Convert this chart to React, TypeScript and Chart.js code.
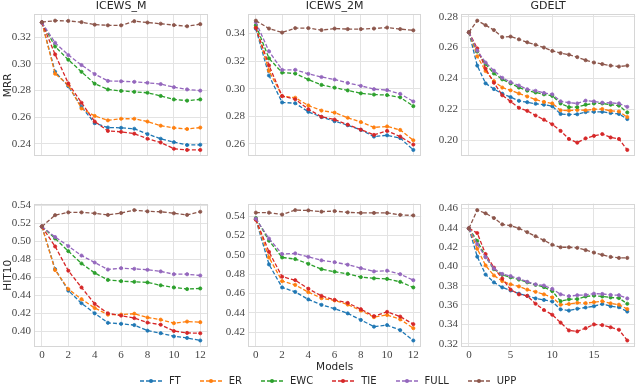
import React, { useEffect, useRef } from "react";
import { Chart, registerables } from "chart.js";

Chart.register(...registerables);

// ---------------- data ----------------
const METHODS = ["FT", "ER", "EWC", "TIE", "FULL", "UPP"];
const COLORS = ["#1f77b4", "#ff7f0e", "#2ca02c", "#d62728", "#9467bd", "#8c564b"];

const icewsModels = [0, 1, 2, 3, 4, 5, 6, 7, 8, 9, 10, 11, 12];
const gdeltModels = [0, 1, 2, 3, 4, 5, 6, 7, 8, 9, 10, 11, 12, 13, 14, 15, 16, 17, 18, 19];
const icewsXTicks = [0, 2, 4, 6, 8, 10, 12];
const gdeltXTicks = [0, 5, 10, 15];

// ICEWS_M MRR
const mM_FT = [0.331, 0.294, 0.2832, 0.2677, 0.2555, 0.2522, 0.252, 0.2513, 0.2473, 0.2438, 0.2412, 0.2391, 0.2393];
const mM_ER = [0.331, 0.2926, 0.2841, 0.2665, 0.2609, 0.2576, 0.2588, 0.2588, 0.2567, 0.2536, 0.252, 0.2511, 0.2522];
const mM_EWC = [0.331, 0.313, 0.3031, 0.294, 0.2851, 0.2808, 0.2797, 0.279, 0.2783, 0.2759, 0.2733, 0.2724, 0.2733];
const mM_TIE = [0.331, 0.3071, 0.2853, 0.2708, 0.2567, 0.2497, 0.249, 0.2476, 0.2438, 0.241, 0.2363, 0.2354, 0.2354];
const mM_FULL = [0.331, 0.3158, 0.3066, 0.2991, 0.2923, 0.2872, 0.2869, 0.2865, 0.2858, 0.2848, 0.2825, 0.2808, 0.2799];
const mM_UPP = [0.3313, 0.3324, 0.3322, 0.3313, 0.3294, 0.3289, 0.3289, 0.332, 0.331, 0.3301, 0.3291, 0.3282, 0.3298];
const mM_YTicks = [0.24, 0.26, 0.28, 0.3, 0.32];

// ICEWS_2M MRR
const m2M_FT = [0.3435, 0.3096, 0.2901, 0.2895, 0.2833, 0.2795, 0.2765, 0.2736, 0.2702, 0.2654, 0.2663, 0.2643, 0.2557];
const m2M_ER = [0.3445, 0.313, 0.2947, 0.2935, 0.2879, 0.2842, 0.2827, 0.279, 0.2759, 0.272, 0.2727, 0.2702, 0.2627];
const m2M_EWC = [0.346, 0.322, 0.3117, 0.311, 0.3067, 0.3028, 0.3008, 0.2988, 0.2967, 0.2958, 0.2954, 0.2938, 0.2874];
const m2M_TIE = [0.3441, 0.3169, 0.2947, 0.2924, 0.2852, 0.2797, 0.2777, 0.274, 0.2704, 0.2666, 0.2695, 0.2654, 0.2596];
const m2M_FULL = [0.3482, 0.3271, 0.3137, 0.3137, 0.3108, 0.3085, 0.3067, 0.3042, 0.3021, 0.2997, 0.299, 0.2963, 0.2908];
const m2M_UPP = [0.3493, 0.3436, 0.3407, 0.3439, 0.3439, 0.3425, 0.3436, 0.3432, 0.3432, 0.3436, 0.3443, 0.3432, 0.3423];
const m2M_YTicks = [0.26, 0.28, 0.3, 0.32, 0.34];

// GDELT MRR
const mG_FT = [0.2699, 0.2483, 0.2368, 0.2331, 0.2301, 0.2279, 0.2255, 0.2246, 0.2236, 0.223, 0.222, 0.217, 0.2166, 0.2168, 0.2182, 0.2184, 0.2184, 0.2176, 0.217, 0.2137];
const mG_ER = [0.2699, 0.2543, 0.2448, 0.2382, 0.2341, 0.2323, 0.2303, 0.2283, 0.2263, 0.2248, 0.2238, 0.2194, 0.2192, 0.2196, 0.2194, 0.22, 0.2202, 0.219, 0.2186, 0.215];
const mG_EWC = [0.2699, 0.2574, 0.2493, 0.2432, 0.2394, 0.2368, 0.2341, 0.2321, 0.2309, 0.2297, 0.2287, 0.2238, 0.2214, 0.2214, 0.223, 0.2238, 0.2238, 0.223, 0.2224, 0.218];
const mG_TIE = [0.2699, 0.2594, 0.2463, 0.2372, 0.2291, 0.2251, 0.221, 0.219, 0.216, 0.2133, 0.2103, 0.206, 0.2008, 0.1984, 0.2012, 0.2028, 0.204, 0.2018, 0.2008, 0.1937];
const mG_FULL = [0.2699, 0.258, 0.2503, 0.245, 0.2404, 0.2376, 0.2354, 0.233, 0.232, 0.2306, 0.2297, 0.2252, 0.2243, 0.2238, 0.2256, 0.2251, 0.2243, 0.2242, 0.2238, 0.2216];
const mG_UPP = [0.2699, 0.2774, 0.2745, 0.2713, 0.2667, 0.2671, 0.2653, 0.2634, 0.2618, 0.26, 0.2578, 0.2564, 0.2554, 0.2538, 0.2518, 0.2503, 0.2493, 0.2483, 0.2477, 0.2483];
const mG_YTicks = [0.2, 0.22, 0.24, 0.26, 0.28];

// ICEWS_M HIT10
const hM_FT = [0.5162, 0.4689, 0.4451, 0.4311, 0.4199, 0.4094, 0.4083, 0.4069, 0.4007, 0.3979, 0.3944, 0.3926, 0.3898];
const hM_ER = [0.5162, 0.4679, 0.4468, 0.4356, 0.4258, 0.4185, 0.4185, 0.4195, 0.4153, 0.4129, 0.409, 0.4108, 0.4101];
const hM_EWC = [0.5162, 0.5029, 0.4889, 0.4752, 0.4647, 0.457, 0.4556, 0.4549, 0.4542, 0.451, 0.4486, 0.4468, 0.4475];
const hM_TIE = [0.5162, 0.4941, 0.4672, 0.4486, 0.4304, 0.4199, 0.4174, 0.4146, 0.4097, 0.4073, 0.4003, 0.3982, 0.3978];
const hM_FULL = [0.5162, 0.5046, 0.4945, 0.484, 0.4763, 0.4685, 0.47, 0.4693, 0.4682, 0.4664, 0.4633, 0.4633, 0.4619];
const hM_UPP = [0.5162, 0.5288, 0.5319, 0.5319, 0.5309, 0.5291, 0.5312, 0.5344, 0.533, 0.5326, 0.5309, 0.5291, 0.5326];
const hM_YTicks = [0.4, 0.42, 0.44, 0.46, 0.48, 0.5, 0.52, 0.54];

// ICEWS_2M HIT10
const h2M_FT = [0.5364, 0.4901, 0.4663, 0.4617, 0.4539, 0.4483, 0.4444, 0.4395, 0.4327, 0.4258, 0.4274, 0.4222, 0.4115];
const h2M_ER = [0.5364, 0.4973, 0.4728, 0.4689, 0.4614, 0.4552, 0.4529, 0.4486, 0.4424, 0.4356, 0.4379, 0.4333, 0.4242];
const h2M_EWC = [0.538, 0.5146, 0.4973, 0.4956, 0.4907, 0.4852, 0.4826, 0.4803, 0.477, 0.4757, 0.4751, 0.4721, 0.4663];
const h2M_TIE = [0.5364, 0.5031, 0.4774, 0.4738, 0.465, 0.4575, 0.4535, 0.4503, 0.4438, 0.4366, 0.4411, 0.4362, 0.4284];
const h2M_FULL = [0.5374, 0.5168, 0.5008, 0.5015, 0.4979, 0.4943, 0.4924, 0.4898, 0.4862, 0.4829, 0.4836, 0.48, 0.4738];
const h2M_UPP = [0.5436, 0.5436, 0.5416, 0.5462, 0.5459, 0.5446, 0.5452, 0.5439, 0.5433, 0.5433, 0.5433, 0.5413, 0.5407];
const h2M_YTicks = [0.42, 0.44, 0.46, 0.48, 0.5, 0.52, 0.54];

// GDELT HIT10
const hG_FT = [0.4392, 0.41, 0.3915, 0.3834, 0.3782, 0.375, 0.3717, 0.3694, 0.3668, 0.3652, 0.3636, 0.3555, 0.3542, 0.3561, 0.3574, 0.3587, 0.361, 0.3587, 0.3577, 0.3532];
const hG_ER = [0.4392, 0.4181, 0.4009, 0.3905, 0.3847, 0.3814, 0.3792, 0.3759, 0.3736, 0.371, 0.3678, 0.3603, 0.361, 0.3623, 0.3619, 0.3629, 0.3639, 0.3617, 0.3603, 0.3558];
const hG_EWC = [0.4392, 0.4262, 0.41, 0.397, 0.3912, 0.3886, 0.3863, 0.3834, 0.3808, 0.3785, 0.3743, 0.3639, 0.3659, 0.3662, 0.3688, 0.3697, 0.3688, 0.3678, 0.3671, 0.3613];
const hG_TIE = [0.4392, 0.4344, 0.4126, 0.3986, 0.3873, 0.3759, 0.371, 0.3694, 0.3613, 0.3548, 0.3499, 0.3418, 0.3337, 0.3327, 0.336, 0.3399, 0.3392, 0.337, 0.3344, 0.3233];
const hG_FULL = [0.4392, 0.423, 0.4094, 0.3977, 0.3921, 0.3899, 0.3873, 0.384, 0.3814, 0.3801, 0.3766, 0.371, 0.3691, 0.3701, 0.3704, 0.3717, 0.3714, 0.3704, 0.3701, 0.3668];
const hG_UPP = [0.4392, 0.4581, 0.4548, 0.4499, 0.4434, 0.4421, 0.4392, 0.4353, 0.4311, 0.4269, 0.4223, 0.4197, 0.4197, 0.4191, 0.4168, 0.4142, 0.4119, 0.4097, 0.4087, 0.4087];
const hG_YTicks = [0.32, 0.34, 0.36, 0.38, 0.4, 0.42, 0.44, 0.46];

// ---------------- styles ----------------
const SANS = "'DejaVu Sans', sans-serif";
const SERIF = "'Liberation Serif', 'DejaVu Serif', serif";
const TEXT = "#262626";
const TICK = "#444444";
const GRID = "#e3e3e3";
const FRAME = "#d6d6d6";

type PanelProps = {
  left: number;
  top: number;
  width: number;
  height: number;
  axisW: number;
  padTop: number;
  padBottom: number;
  xAxisH: number;
  title?: string;
  yTitle?: string;
  xTitle?: string;
  models: number[];
  xTicks: number[];
  yTicks: number[];
  series: number[][];
  showXTicks: boolean;
};

const framePlugin = {
  id: "frame",
  beforeDatasetsDraw(chart: any) {
    const { ctx, chartArea: a } = chart;
    ctx.save();
    ctx.strokeStyle = FRAME;
    ctx.lineWidth = 1;
    const l = Math.round(a.left) + 0.5;
    const t = Math.round(a.top) + 0.5;
    const r = Math.round(a.right) - 0.5;
    const b = Math.round(a.bottom) - 0.5;
    ctx.strokeRect(l, t, r - l, b - t);
    ctx.restore();
  },
};

function Panel(p: PanelProps) {
  const ref = useRef<HTMLCanvasElement | null>(null);
  useEffect(() => {
    if (!ref.current) return;
    const all = p.series.flat();
    const lo = Math.min(...all);
    const hi = Math.max(...all);
    const ym = (hi - lo) * 0.05;
    const xr = p.models[p.models.length - 1] - p.models[0];
    const xm = xr * 0.05;
    const chart = new Chart(ref.current, {
      type: "line",
      data: {
        datasets: p.series.map((s, k) => ({
          label: METHODS[k],
          data: p.models.map((m, i) => ({ x: m, y: s[i] })),
          borderColor: COLORS[k],
          backgroundColor: COLORS[k],
          borderWidth: 1.3,
          borderDash: [4, 2],
          pointRadius: 1.6,
          pointBorderWidth: 0.8,
          pointBorderColor: COLORS[k],
          pointBackgroundColor: COLORS[k],
          tension: 0,
          order: METHODS.length - k,
          clip: false,
        })),
      },
      options: {
        responsive: false,
        animation: false,
        devicePixelRatio: 1,
        events: [],
        layout: { padding: { left: 0, right: 1, top: p.padTop, bottom: p.padBottom } },
        plugins: {
          legend: { display: false },
          tooltip: { enabled: false },
          title: {
            display: !!p.title,
            text: p.title || "",
            fullSize: false,
            color: TEXT,
            font: { family: SANS, size: 11, weight: "normal" },
            padding: { top: 0, bottom: 1 },
          },
        },
        scales: {
          x: {
            type: "linear",
            min: p.models[0] - xm,
            max: p.models[p.models.length - 1] + xm,
            afterBuildTicks: (s: any) => {
              s.ticks = p.xTicks.map((v) => ({ value: v }));
            },
            afterFit: (s: any) => {
              s.height = p.xAxisH;
            },
            grid: { color: GRID, lineWidth: 1, drawTicks: false },
            border: { display: false },
            ticks: {
              display: p.showXTicks,
              padding: 2,
              color: TICK,
              font: { family: SERIF, size: 11 },
              callback: (v: any) => String(v),
            },
            title: {
              display: !!p.xTitle,
              text: p.xTitle || "",
              color: TEXT,
              font: { family: SANS, size: 10.5 },
              padding: { top: 0, bottom: 11 },
            },
          },
          y: {
            type: "linear",
            min: lo - ym,
            max: hi + ym,
            afterBuildTicks: (s: any) => {
              s.ticks = p.yTicks.map((v) => ({ value: v }));
            },
            afterFit: (s: any) => {
              s.width = p.axisW;
            },
            grid: { color: GRID, lineWidth: 1, drawTicks: false },
            border: { display: false },
            ticks: {
              padding: 3,
              color: TICK,
              font: { family: SERIF, size: 11 },
              callback: (v: any) => Number(v).toFixed(2),
            },
            title: {
              display: !!p.yTitle,
              text: p.yTitle || "",
              color: TEXT,
              font: { family: SANS, size: 10.5 },
              padding: { top: 2, bottom: 0 },
            },
          },
        },
      } as any,
      plugins: [framePlugin],
    });
    return () => chart.destroy();
  }, []);
  return (
    <canvas
      ref={ref}
      width={p.width}
      height={p.height}
      style={{ position: "absolute", left: p.left, top: p.top, width: p.width, height: p.height }}
    />
  );
}

function LegendItem({ label, color }: { label: string; color: string }) {
  return (
    <div style={{ display: "flex", alignItems: "center", marginRight: 19 }}>
      <svg width={22} height={8} style={{ display: "block" }}>
        <line x1={0} y1={4} x2={22} y2={4} stroke={color} strokeWidth={1.3} strokeDasharray="4 2" />
        <circle cx={11} cy={4} r={2} fill={color} />
      </svg>
      <span style={{ marginLeft: 7 }}>{label}</span>
    </div>
  );
}

export default function App() {
  const topY = 0;
  const topH = 166;
  const botY = 194;
  const botH = 191;
  const cols = [
    { left: 0, width: 213, axisW: 34 },
    { left: 218, width: 208, axisW: 30 },
    { left: 431, width: 209, axisW: 30 },
  ];
  const panels: PanelProps[] = [
    { ...cols[0], top: topY, height: topH, padTop: 0, padBottom: 1, xAxisH: 0, title: "ICEWS_M", yTitle: "MRR",
      models: icewsModels, xTicks: icewsXTicks, yTicks: mM_YTicks, showXTicks: false,
      series: [mM_FT, mM_ER, mM_EWC, mM_TIE, mM_FULL, mM_UPP] },
    { ...cols[1], top: topY, height: topH, padTop: 0, padBottom: 1, xAxisH: 0, title: "ICEWS_2M",
      models: icewsModels, xTicks: icewsXTicks, yTicks: m2M_YTicks, showXTicks: false,
      series: [m2M_FT, m2M_ER, m2M_EWC, m2M_TIE, m2M_FULL, m2M_UPP] },
    { ...cols[2], top: topY, height: topH, padTop: 0, padBottom: 1, xAxisH: 0, title: "GDELT",
      models: gdeltModels, xTicks: gdeltXTicks, yTicks: mG_YTicks, showXTicks: false,
      series: [mG_FT, mG_ER, mG_EWC, mG_TIE, mG_FULL, mG_UPP] },
    { ...cols[0], top: botY, height: botH, padTop: 1, padBottom: 0, xAxisH: 38, yTitle: "HIT10",
      models: icewsModels, xTicks: icewsXTicks, yTicks: hM_YTicks, showXTicks: true,
      series: [hM_FT, hM_ER, hM_EWC, hM_TIE, hM_FULL, hM_UPP] },
    { ...cols[1], top: botY, height: botH, padTop: 1, padBottom: 0, xAxisH: 38, xTitle: "Models",
      models: icewsModels, xTicks: icewsXTicks, yTicks: h2M_YTicks, showXTicks: true,
      series: [h2M_FT, h2M_ER, h2M_EWC, h2M_TIE, h2M_FULL, h2M_UPP] },
    { ...cols[2], top: botY, height: botH, padTop: 1, padBottom: 0, xAxisH: 38,
      models: gdeltModels, xTicks: gdeltXTicks, yTicks: hG_YTicks, showXTicks: true,
      series: [hG_FT, hG_ER, hG_EWC, hG_TIE, hG_FULL, hG_UPP] },
  ];
  return (
    <div style={{ position: "absolute", left: 0, top: 0, width: 640, height: 385, overflow: "hidden", background: "#fff" }}>
      {panels.map((p, i) => (
        <Panel key={i} {...p} />
      ))}
      <div
        style={{
          position: "absolute",
          left: 140,
          top: 375,
          display: "flex",
          alignItems: "center",
          fontFamily: SANS,
          fontSize: 10,
          lineHeight: "12px",
          color: TEXT,
          zIndex: 2,
          whiteSpace: "nowrap",
        }}
      >
        {METHODS.map((m, k) => (
          <LegendItem key={m} label={m} color={COLORS[k]} />
        ))}
      </div>
    </div>
  );
}
